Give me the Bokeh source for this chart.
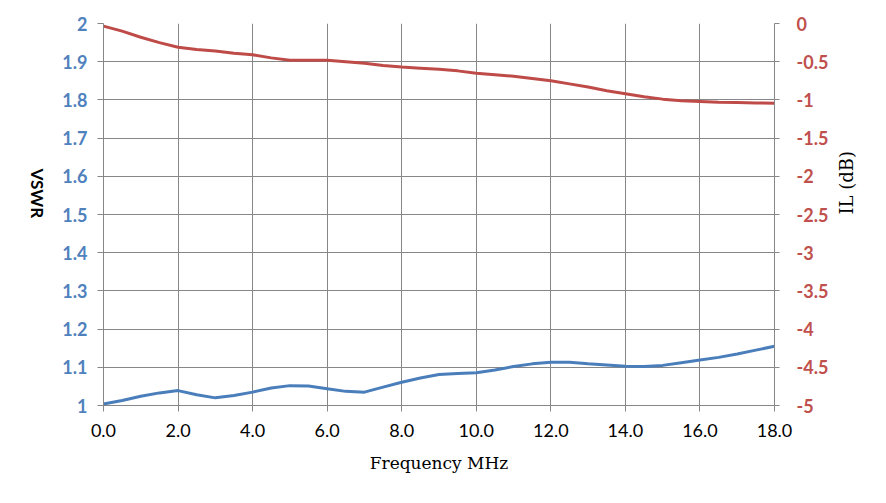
import math
from bokeh.plotting import figure
from bokeh.models import Range1d, LinearAxis, FixedTicker, NumeralTickFormatter
from bokeh.layouts import row
from bokeh.core.properties import value
from bokeh.embed import file_html
from bokeh.resources import INLINE

freq = [0, 0.5, 1, 1.5, 2, 2.5, 3, 3.5, 4, 4.5, 5, 5.5, 6, 6.5, 7, 7.5, 8, 8.5, 9,
        9.5, 10, 10.5, 11, 11.5, 12, 12.5, 13, 13.5, 14, 14.5, 15, 15.5, 16, 16.5,
        17, 17.5, 18]
vswr = [1.004, 1.013, 1.024, 1.033, 1.039, 1.028, 1.020, 1.026, 1.035, 1.046,
        1.052, 1.051, 1.044, 1.037, 1.035, 1.048, 1.061, 1.072, 1.081,
        1.084, 1.086, 1.093, 1.102, 1.109, 1.113, 1.113, 1.109, 1.106, 1.103,
        1.102, 1.105, 1.112, 1.119, 1.126, 1.135, 1.145, 1.155]
il_db = [-0.035, -0.10, -0.18, -0.25, -0.31, -0.34, -0.36, -0.39, -0.41, -0.45,
         -0.48, -0.48, -0.48, -0.50, -0.52, -0.55, -0.57, -0.585, -0.60,
         -0.62, -0.65, -0.67, -0.69, -0.72, -0.75, -0.79, -0.83, -0.88, -0.92,
         -0.96, -0.99, -1.01, -1.02, -1.03, -1.035, -1.04, -1.043]

x_ticks = [0, 2, 4, 6, 8, 10, 12, 14, 16, 18]
vswr_ticks = [1.0, 1.1, 1.2, 1.3, 1.4, 1.5, 1.6, 1.7, 1.8, 1.9, 2.0]
il_ticks = [-5.0, -4.5, -4.0, -3.5, -3.0, -2.5, -2.0, -1.5, -1.0, -0.5, 0.0]

BLUE = "#4A7EBB"
RED = "#BE4B48"
BLUE_T = "#4F81BD"
RED_T = "#C0504D"
GRID = "#878787"

# narrow strip holding the left axis title, read top-to-bottom
strip = figure(width=50, height=495, output_backend="svg", toolbar_location=None,
               x_range=Range1d(0, 50), y_range=Range1d(495, 0),
               x_axis_location=None, y_axis_location=None,
               min_border=0, min_border_left=0, min_border_right=0,
               min_border_top=0, min_border_bottom=0)
strip.outline_line_color = None
strip.xgrid.visible = False
strip.ygrid.visible = False
strip.text(x=[37], y=[188], text=["VSWR"], angle=-math.pi / 2,
           text_align="left", text_baseline="middle",
           text_font=value("Lato"), text_font_style="bold", text_font_size="17px",
           text_color="black")

p = figure(width=828, height=495, output_backend="svg", toolbar_location=None,
           x_range=Range1d(0, 18), y_range=Range1d(1, 2),
           frame_width=671, frame_height=382,
           min_border_left=53, min_border_top=23, min_border_right=104, min_border_bottom=90)
p.extra_y_ranges = {"il": Range1d(-5, 0)}
p.outline_line_color = None
p.background_fill_color = "white"
p.border_fill_color = "white"

p.xaxis.ticker = FixedTicker(ticks=x_ticks)
p.xaxis.formatter = NumeralTickFormatter(format="0.0")
p.yaxis.ticker = FixedTicker(ticks=vswr_ticks)
p.yaxis.formatter = NumeralTickFormatter(format="0.[0]")

ax_r = LinearAxis(y_range_name="il", ticker=FixedTicker(ticks=il_ticks),
                  formatter=NumeralTickFormatter(format="0.[0]"))
p.add_layout(ax_r, "right")

for ax in [p.xaxis[0], p.yaxis[0], ax_r]:
    ax.axis_line_color = GRID
    ax.major_tick_line_color = GRID
    ax.major_tick_in = 0
    ax.major_tick_out = 6
    ax.minor_tick_line_color = None

p.xaxis.major_label_text_font = "Lato"
p.xaxis.major_label_text_font_size = "18px"
p.xaxis.major_label_text_color = "black"
p.xaxis.major_label_standoff = 12
p.xaxis.axis_label = "Frequency MHz"
p.xaxis.axis_label_text_font = "DejaVu Serif"
p.xaxis.axis_label_text_font_style = "normal"
p.xaxis.axis_label_text_font_size = "17px"
p.xaxis.axis_label_text_color = "black"
p.xaxis.axis_label_standoff = 13

p.yaxis.major_label_text_font = "Lato"
p.yaxis.major_label_text_font_style = "bold"
p.yaxis.major_label_text_font_size = "18px"
p.yaxis.major_label_text_color = BLUE_T
p.yaxis.major_label_standoff = 10

ax_r.major_tick_out = 5
ax_r.major_label_text_font = "Lato"
ax_r.major_label_text_font_style = "bold"
ax_r.major_label_text_font_size = "18px"
ax_r.major_label_text_color = RED_T
ax_r.major_label_standoff = 17
ax_r.axis_label = "IL (dB)"
ax_r.axis_label_text_font = "DejaVu Serif"
ax_r.axis_label_text_font_style = "normal"
ax_r.axis_label_text_font_size = "18px"
ax_r.axis_label_text_color = "black"
ax_r.axis_label_standoff = 15
ax_r.axis_label_orientation = math.pi / 2

p.xgrid.ticker = FixedTicker(ticks=x_ticks)
p.ygrid.ticker = FixedTicker(ticks=vswr_ticks)
p.xgrid.grid_line_color = GRID
p.ygrid.grid_line_color = GRID

p.line(freq, vswr, line_color=BLUE, line_width=3)
p.line(freq, il_db, line_color=RED, line_width=3, y_range_name="il")

layout = row(strip, p, spacing=0)
open("out.html", "w").write(file_html(layout, INLINE))
